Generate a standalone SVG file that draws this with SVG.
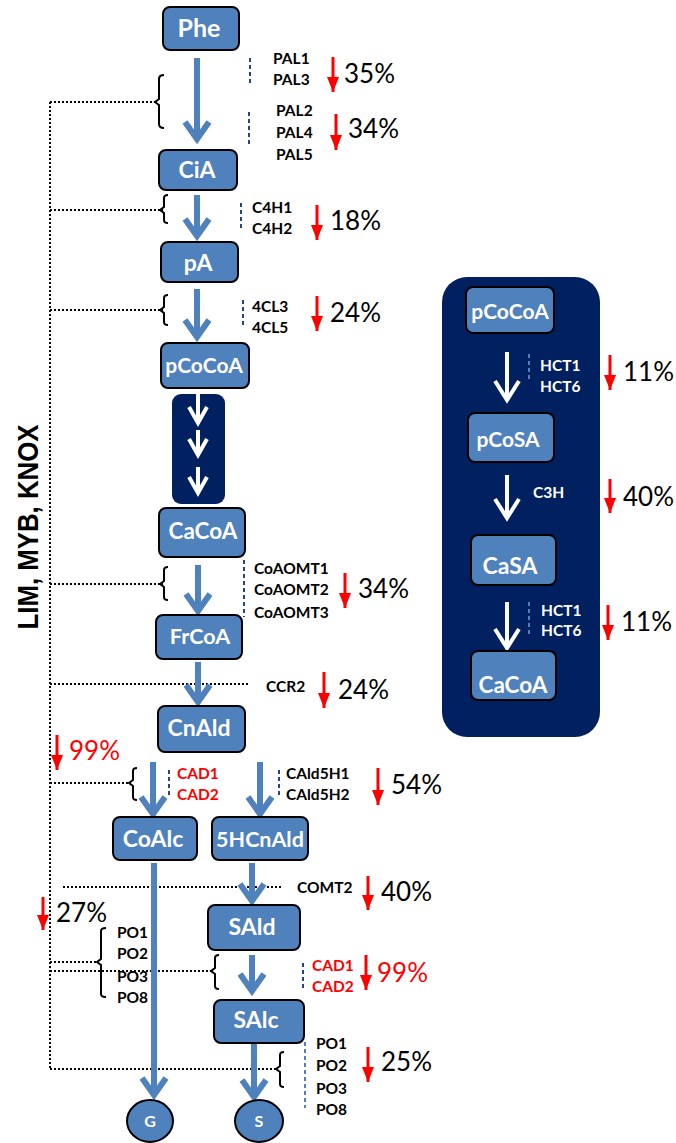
<svg xmlns="http://www.w3.org/2000/svg" width="676" height="1143" viewBox="0 0 676 1143">
<style>
.node rect,.node ellipse{fill:#4F81BD;stroke:#000;stroke-width:2}
.nt{font-family:Lato,"Open Sans",sans-serif;font-weight:bold;fill:#fff;text-anchor:middle}
.lb{font-family:Lato,"Open Sans",sans-serif;font-weight:bold;font-size:15.5px;fill:#000}
.pc{font-family:Lato,"Open Sans",sans-serif;font-size:26px;fill:#000}
.lw{fill:#fff}
.red{fill:#FF0000}
.ba{fill:none;stroke:#4F81BD;stroke-width:6}
.wa{fill:none;stroke:#fff;stroke-width:4}
.ra{stroke:#FF0000;stroke-width:3;marker-end:url(#rh)}
.dash{stroke:#1F497D;stroke-width:2;stroke-dasharray:4 3}
.dashl{stroke:#4F81BD;stroke-width:2;stroke-dasharray:4 3}
.dot{stroke:#000;stroke-width:2;stroke-dasharray:2 2;fill:none}
.br{fill:none;stroke:#000;stroke-width:2}
</style>
<defs>
<marker id="rh" markerUnits="userSpaceOnUse" viewBox="0 -7 15 14" refX="15" refY="0" markerWidth="15" markerHeight="14" orient="auto">
<path d="M0,-6 L15,0 L0,6 z" fill="#FF0000"/>
</marker>
</defs>

<!-- backgrounds -->
<rect id="panel-main" x="172" y="394" width="53" height="110" rx="9" fill="#002060"/>
<rect id="panel-right" x="442" y="277" width="158" height="460" rx="25" fill="#002060"/>

<text x="38" y="527" transform="rotate(-90 38 527)" font-family="Liberation Sans,Arial,sans-serif" font-weight="bold" font-size="29" text-anchor="middle" textLength="205" lengthAdjust="spacingAndGlyphs">LIM,  MYB,  KNOX</text>

<g id="connectors">
<!-- dotted regulation lines -->
<path class="dot" d="M50 102 V1069 M50 102 H155 M50 210 H163 M50 310 H163 M50 584 H163 M50 684 H248 M50 783 H130 M63 887 H283 M50 962 H97 M50 971 H213 M50 1069 H277"/>
<!-- brackets -->
<path class="br" d="M164 75 Q159 75 159 79 V99 L155 102 L159 105 V124 Q159 128 164 128"/>
<path class="br" d="M168 195 Q164 195 164 198 V207 L160 210 L164 213 V220 Q164 223 168 223"/>
<path class="br" d="M168 295 Q164 295 164 298 V307 L160 310 L164 313 V322 Q164 325 168 325"/>
<path class="br" d="M168 567 Q164 567 164 570 V581 L160 584 L164 587 V597 Q164 600 168 600"/>
<path class="br" d="M137 768 Q133 768 133 771 V780 L129 783 L133 786 V797 Q133 800 137 800"/>
<path class="br" d="M106 928 Q101 928 101 931 V959 L97 962 L101 965 V994 Q101 997 106 997"/>
<path class="br" d="M219 955 Q215 955 215 958 V968 L211 971 L215 974 V986 Q215 989 219 989"/>
<path class="br" d="M284 1052 Q280 1052 280 1055 V1066 L276 1069 L280 1072 V1084 Q280 1087 284 1087"/>
<!-- blue arrows -->
<path class="ba" d="M197 58 V138 M185 122 L197 139 L209 122"/>
<path class="ba" d="M197 195 V235 M185 219 L197 236 L209 219"/>
<path class="ba" d="M197 289 V336 M185 320 L197 337 L209 320"/>
<path class="ba" d="M198 565 V610 M186 594 L198 611 L210 594"/>
<path class="ba" d="M198 662 V701 M186 685 L198 702 L210 685"/>
<path class="ba" d="M153 762 V813 M141 797 L153 814 L165 797"/>
<path class="ba" d="M260 762 V813 M248 797 L260 814 L272 797"/>
<path class="ba" d="M154 863 V1094 M142 1078 L154 1095 L166 1078"/>
<path class="ba" d="M252 863 V900 M240 884 L252 901 L264 884"/>
<path class="ba" d="M252 955 V990 M240 974 L252 991 L264 974"/>
<path class="ba" d="M254 1043 V1096 M242 1080 L254 1097 L266 1080"/>
<!-- white arrows -->
<path class="wa" d="M198 394 V422 M189 407 L198 423 L207 407"/>
<path class="wa" d="M198 430 V454 M189 439 L198 455 L207 439"/>
<path class="wa" d="M198 467 V492 M189 477 L198 493 L207 477"/>
<path class="wa" d="M507 352 V398 M495 381 L507 400 L519 381"/>
<path class="wa" d="M507 475 V516 M495 499 L507 518 L519 499"/>
<path class="wa" d="M507 602 V646 M495 629 L507 648 L519 629"/>
<!-- dashed gene markers -->
<path class="dash" d="M250 58 V84 M249 112 V145 M241 203 V230 M243 300 V327 M244 560 V617 M169 770 V797 M279 770 V797 M303 963 V991"/>
<path class="dashl" d="M305 1042 V1108 M529 354 V380 M529 602 V637"/>
<!-- red arrows -->
<line class="ra" x1="333" y1="57" x2="333" y2="92"/>
<line class="ra" x1="336" y1="114" x2="336" y2="150"/>
<line class="ra" x1="317" y1="205" x2="317" y2="240"/>
<line class="ra" x1="317" y1="296" x2="317" y2="331"/>
<line class="ra" x1="345" y1="573" x2="345" y2="608"/>
<line class="ra" x1="324" y1="672" x2="324" y2="708"/>
<line class="ra" x1="57" y1="735" x2="57" y2="770"/>
<line class="ra" x1="378" y1="768" x2="378" y2="805"/>
<line class="ra" x1="368" y1="876" x2="368" y2="910"/>
<line class="ra" x1="43" y1="897" x2="43" y2="930"/>
<line class="ra" x1="366" y1="955" x2="366" y2="990"/>
<line class="ra" x1="368" y1="1047" x2="368" y2="1082"/>
<line class="ra" x1="610" y1="355" x2="610" y2="390"/>
<line class="ra" x1="610" y1="479" x2="610" y2="513"/>
<line class="ra" x1="608" y1="605" x2="608" y2="640"/>
</g>

<!-- nodes -->
<g id="Phe" class="node"><rect x="163" y="7" width="76" height="43" rx="7"/><text class="nt" x="199" y="37" font-size="25">Phe</text></g>
<g id="CiA" class="node"><rect x="159" y="150" width="78" height="40" rx="7"/><text class="nt" x="197" y="178" font-size="23">CiA</text></g>
<g id="pA" class="node"><rect x="161" y="242" width="77" height="40" rx="7"/><text class="nt" x="198" y="271" font-size="23">pA</text></g>
<g id="pCoCoA" class="node"><rect x="161" y="343" width="88" height="45" rx="7"/><text class="nt" x="204" y="373" font-size="21">pCoCoA</text></g>
<g id="CaCoA" class="node"><rect x="159" y="508" width="86" height="49" rx="7"/><text class="nt" x="203" y="539" font-size="22.5">CaCoA</text></g>
<g id="FrCoA" class="node"><rect x="156" y="615" width="86" height="44" rx="7"/><text class="nt" x="200" y="644" font-size="21.5">FrCoA</text></g>
<g id="CnAld" class="node"><rect x="158" y="706" width="87" height="46" rx="7"/><text class="nt" x="199" y="736" font-size="23">CnAld</text></g>
<g id="CoAlc" class="node"><rect x="113" y="817" width="84" height="43" rx="7"/><text class="nt" x="153" y="847" font-size="23">CoAlc</text></g>
<g id="HCnAld5" class="node"><rect x="212" y="817" width="96" height="43" rx="7"/><text class="nt" x="260" y="847" font-size="21.5">5HCnAld</text></g>
<g id="SAld" class="node"><rect x="208" y="905" width="92" height="45" rx="7"/><text class="nt" x="252" y="935" font-size="23">SAld</text></g>
<g id="SAlc" class="node"><rect x="214" y="1000" width="90" height="43" rx="7"/><text class="nt" x="256" y="1028" font-size="23">SAlc</text></g>
<g id="G" class="node"><ellipse cx="150" cy="1121" rx="23" ry="21"/><text class="nt" x="150" y="1127" font-size="16">G</text></g>
<g id="S" class="node"><ellipse cx="259" cy="1121" rx="24" ry="21"/><text class="nt" x="259" y="1127" font-size="16">S</text></g>

<g id="R-pCoCoA" class="node"><rect x="466" y="287" width="88" height="46" rx="7"/><text class="nt" x="510" y="319" font-size="21">pCoCoA</text></g>
<g id="R-pCoSA" class="node"><rect x="468" y="413" width="86" height="49" rx="7"/><text class="nt" x="508" y="447" font-size="21">pCoSA</text></g>
<g id="R-CaSA" class="node"><rect x="471" y="535" width="85" height="50" rx="7"/><text class="nt" x="510" y="574" font-size="23">CaSA</text></g>
<g id="R-CaCoA" class="node"><rect x="471" y="651" width="85" height="49" rx="7"/><text class="nt" x="513" y="693" font-size="22.5">CaCoA</text></g>

<!-- gene labels -->
<g id="labels">
<text class="lb" x="273" y="64">PAL1</text>
<text class="lb" x="273" y="85">PAL3</text>
<text class="lb" x="276" y="116">PAL2</text>
<text class="lb" x="276" y="138">PAL4</text>
<text class="lb" x="276" y="160">PAL5</text>
<text class="lb" x="252" y="213">C4H1</text>
<text class="lb" x="252" y="234">C4H2</text>
<text class="lb" x="252" y="312">4CL3</text>
<text class="lb" x="252" y="333">4CL5</text>
<text class="lb" x="254" y="574">CoAOMT1</text>
<text class="lb" x="254" y="595">CoAOMT2</text>
<text class="lb" x="254" y="618">CoAOMT3</text>
<text class="lb" x="266" y="692">CCR2</text>
<text class="lb red" x="177" y="779">CAD1</text>
<text class="lb red" x="177" y="800">CAD2</text>
<text class="lb" x="286" y="779">CAld5H1</text>
<text class="lb" x="286" y="800">CAld5H2</text>
<text class="lb" x="297" y="893">COMT2</text>
<text class="lb" x="117" y="938">PO1</text>
<text class="lb" x="117" y="959">PO2</text>
<text class="lb" x="117" y="982">PO3</text>
<text class="lb" x="117" y="1003">PO8</text>
<text class="lb red" x="312" y="971">CAD1</text>
<text class="lb red" x="312" y="992">CAD2</text>
<text class="lb" x="316" y="1049">PO1</text>
<text class="lb" x="316" y="1071">PO2</text>
<text class="lb" x="316" y="1094">PO3</text>
<text class="lb" x="316" y="1115">PO8</text>
<text class="lb lw" x="540" y="371">HCT1</text>
<text class="lb lw" x="540" y="392">HCT6</text>
<text class="lb lw" x="533" y="498" font-size="13">C3H</text>
<text class="lb lw" x="541" y="616">HCT1</text>
<text class="lb lw" x="541" y="636">HCT6</text>
</g>

<g id="percents">
<text class="pc" x="344" y="83">35%</text>
<text class="pc" x="348" y="138">34%</text>
<text class="pc" x="330" y="230">18%</text>
<text class="pc" x="330" y="322">24%</text>
<text class="pc" x="358" y="598">34%</text>
<text class="pc" x="338" y="699">24%</text>
<text class="pc red" x="69" y="760">99%</text>
<text class="pc" x="391" y="794">54%</text>
<text class="pc" x="381" y="901">40%</text>
<text class="pc" x="56" y="922">27%</text>
<text class="pc red" x="377" y="982">99%</text>
<text class="pc" x="381" y="1071">25%</text>
<text class="pc" x="623" y="381">11%</text>
<text class="pc" x="623" y="506">40%</text>
<text class="pc" x="621" y="631">11%</text>
</g>
</svg>
